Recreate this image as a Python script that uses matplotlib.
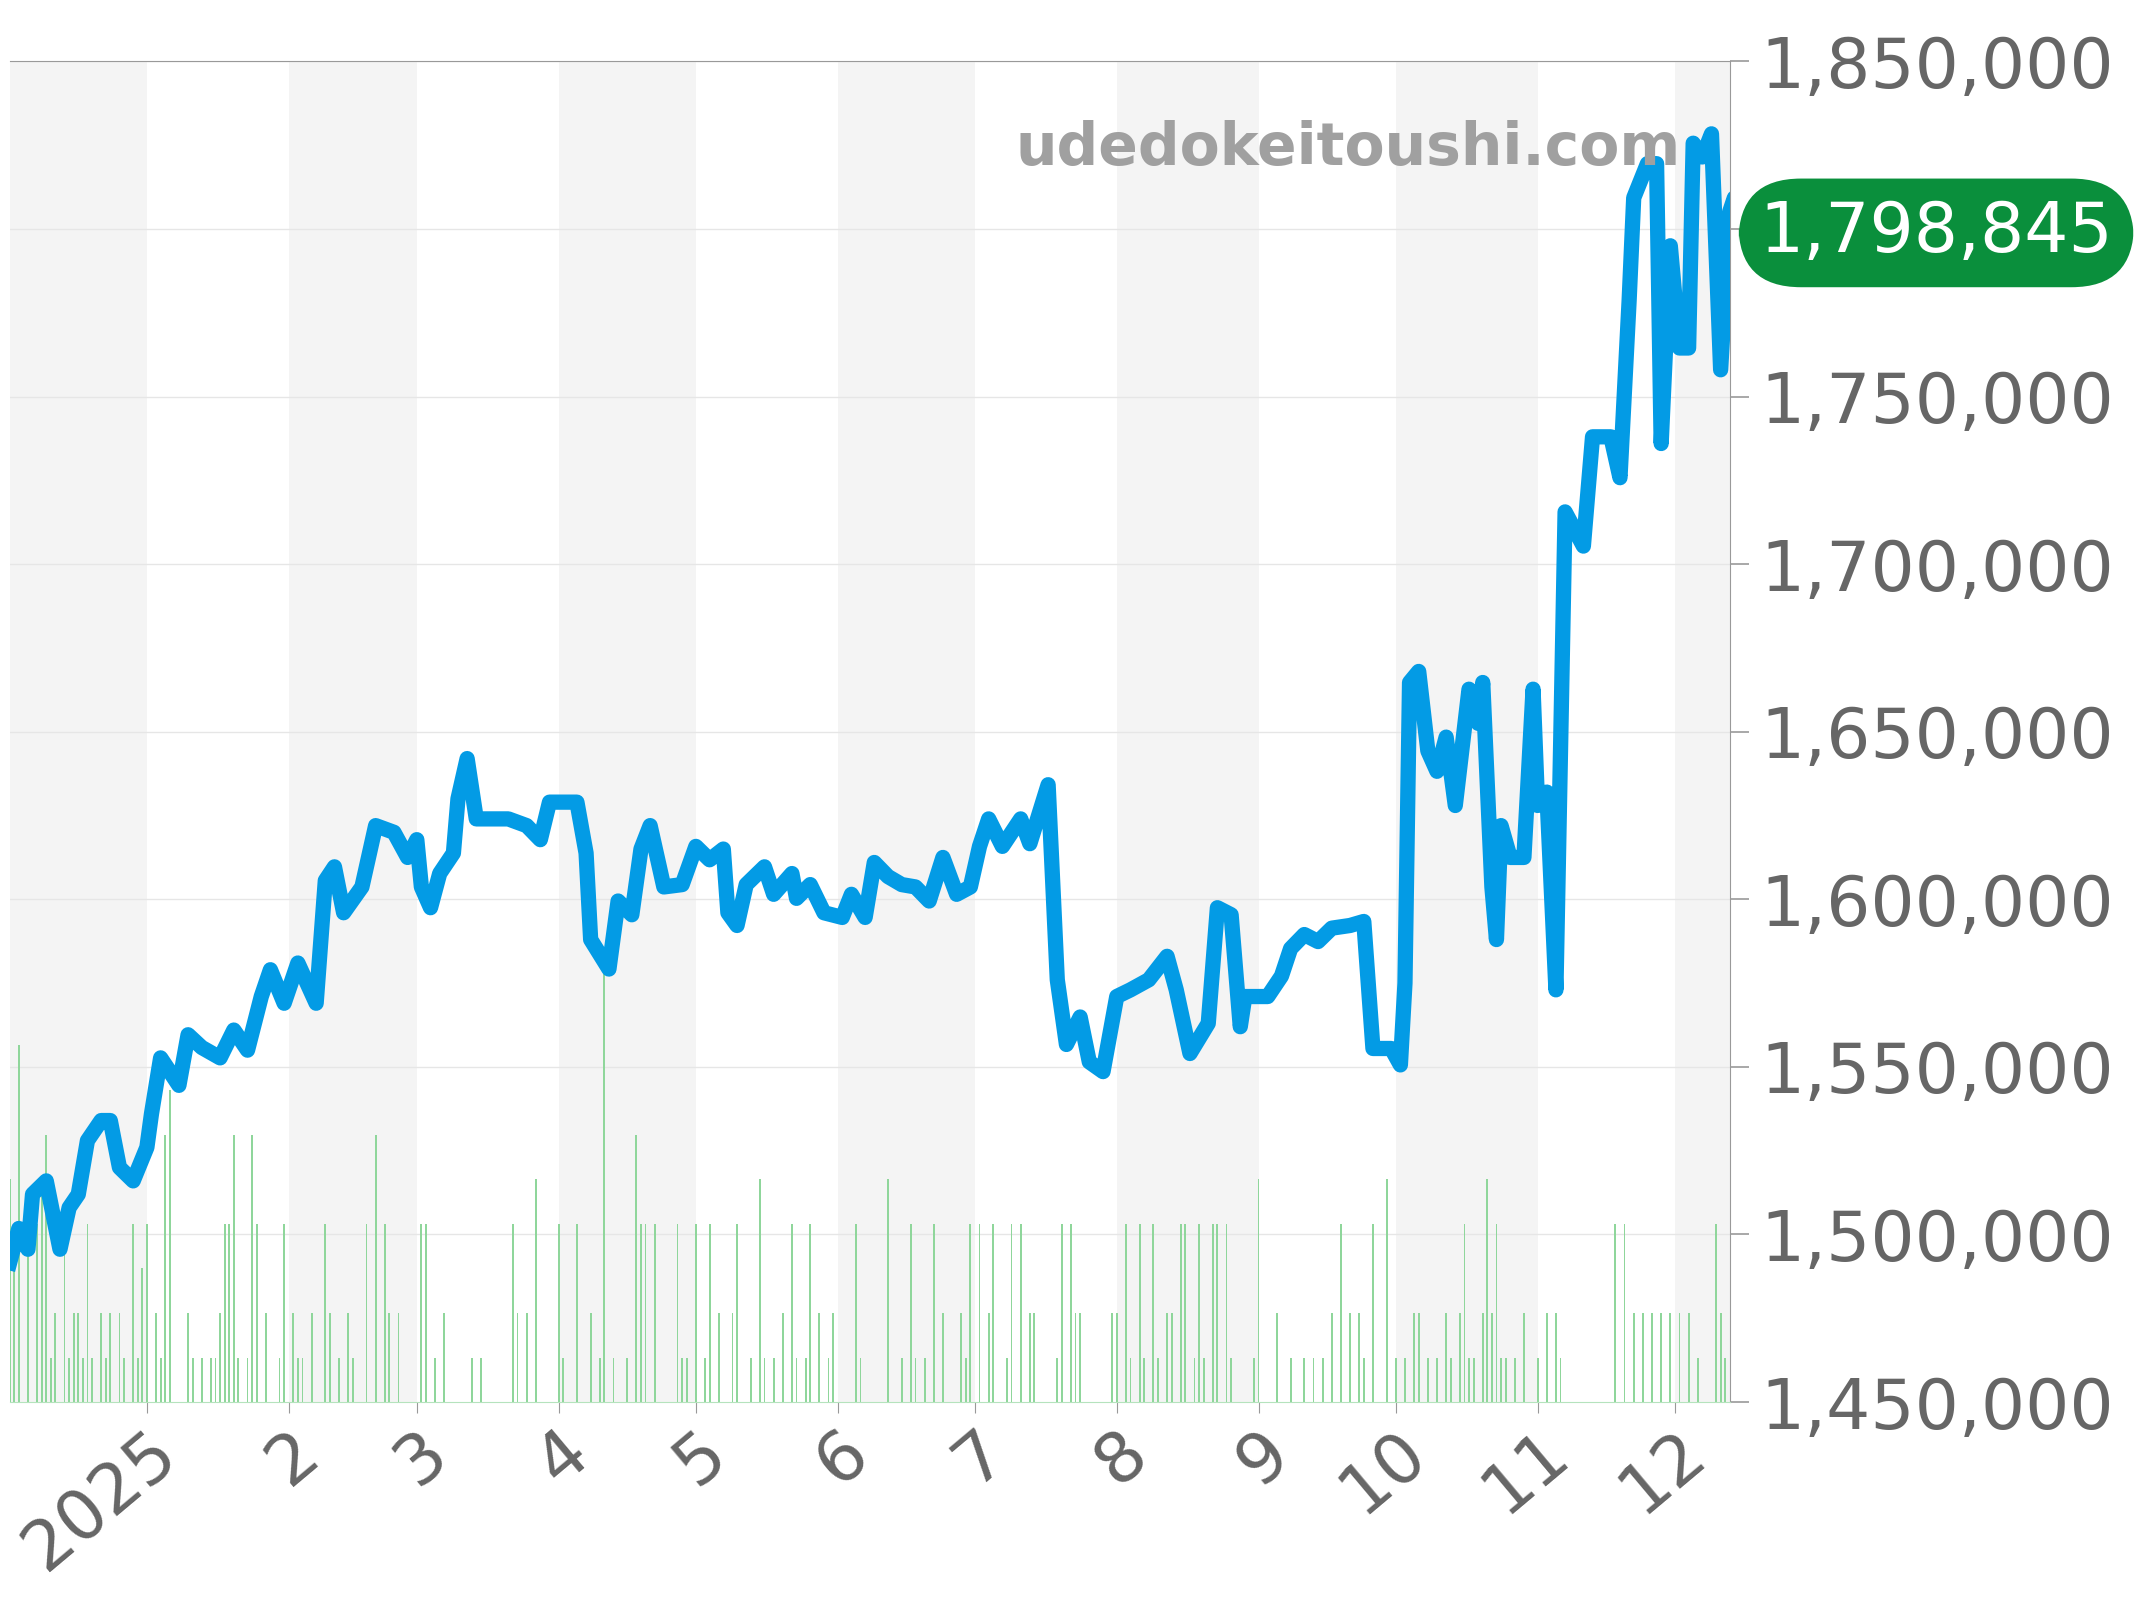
import matplotlib
matplotlib.use("Agg")
import matplotlib.pyplot as plt
import datetime as dt

start = dt.date(2024, 12, 2)
price_days = [0,2,4,5,8,11,13,15,17,20,22,24,27,30,31,33,37,39,42,46,49,52,55,57,60,63,67,69,71,73,77,80,84,87,89,90,92,94,97,98,100,102,106,109,113,116,118,124,126,127,131,133,136,138,140,143,147,150,153,156,157,159,161,165,167,171,172,175,178,182,184,187,189,192,195,198,201,204,207,210,212,214,217,221,223,227,229,231,234,236,239,242,245,249,253,255,258,262,264,267,269,270,275,278,280,283,286,289,293,296,298,302,304,305,306,308,310,312,314,316,319,321,322,324,325,326,328,331,333,334,336,338,340,344,346,350,352,354,355,358,360,361,363,365,367,368,370,372,374,376,377,378]
price_vals = [1491600,1501800,1495600,1512000,1516000,1495600,1508000,1512000,1528000,1534000,1534000,1520000,1516000,1526000,1536000,1552700,1544500,1559600,1555800,1552700,1561000,1555000,1571000,1579000,1569000,1581000,1569000,1605600,1609700,1596000,1603700,1622000,1620000,1612500,1617800,1603700,1597500,1607700,1613800,1630000,1642000,1624000,1624000,1624000,1622000,1617800,1629000,1629000,1613800,1588000,1579200,1599500,1595400,1615000,1622000,1603700,1604400,1615800,1611800,1615000,1596000,1592200,1604400,1609700,1601500,1607700,1600300,1604400,1596000,1594600,1601500,1594600,1611000,1606800,1604400,1603700,1599500,1612500,1601500,1603700,1615800,1624000,1615800,1624000,1616600,1634200,1576000,1556700,1564900,1551500,1548600,1571000,1573000,1576000,1583000,1573000,1554000,1563000,1597500,1595400,1562000,1571000,1571000,1577100,1585300,1589500,1587400,1591400,1592200,1593400,1555500,1555500,1550600,1575000,1664700,1668000,1644300,1638200,1648400,1628000,1662700,1652500,1664700,1603700,1588000,1622000,1612500,1612500,1662700,1628000,1632000,1573000,1715600,1705400,1738000,1738000,1725800,1778700,1809300,1819500,1819500,1736000,1795000,1764500,1764500,1825600,1821500,1828400,1758000,1805200,1809300,1798845]

vol_days = [0,1,2,4,6,7,8,9,10,12,13,14,15,16,17,18,20,21,22,24,25,27,28,29,30,32,33,34,35,39,40,42,44,45,46,47,48,49,50,52,53,54,56,59,60,62,63,64,66,69,70,72,74,75,78,80,82,83,85,90,91,93,95,101,103,110,111,113,115,120,121,124,127,129,130,132,135,137,138,139,141,146,147,148,150,152,153,155,158,159,162,164,165,167,169,171,172,174,175,177,179,180,185,186,192,195,197,198,200,202,204,208,209,210,212,214,215,218,219,221,223,224,229,230,232,233,234,241,242,244,245,247,248,250,251,253,254,256,257,259,260,261,263,264,266,267,272,273,277,280,283,285,287,289,291,293,295,296,298,301,303,305,307,308,310,312,314,315,317,318,319,320,322,323,324,325,326,327,329,331,334,336,338,339,351,353,355,357,359,361,363,365,367,369,373,374,375]
vol_lvls = [5,3,8,4,4,5,6,1,2,4,1,2,2,1,4,1,2,1,2,2,1,4,1,3,4,2,1,6,7,2,1,1,1,1,2,4,4,6,1,1,6,4,2,1,4,2,1,1,2,4,2,1,2,1,4,6,4,2,2,4,4,1,2,1,1,4,2,2,5,4,1,4,2,1,10,1,1,6,4,4,4,4,1,1,4,1,4,2,2,4,1,5,1,1,2,4,1,1,4,2,1,2,4,1,5,1,4,1,1,4,2,2,1,4,4,2,4,1,4,4,2,2,1,4,4,2,2,2,2,4,1,4,1,4,1,2,2,4,4,1,4,1,4,4,4,1,1,5,2,1,1,1,1,2,4,2,2,1,4,5,1,1,2,2,1,1,2,1,2,4,1,1,2,5,2,4,1,1,1,2,1,2,2,1,4,4,2,2,2,2,2,2,2,1,4,2,1]
vol_unit = 13300
last_price = 1798845

n = min(len(vol_days), len(vol_lvls))
pd_ = [start + dt.timedelta(days=d) for d in price_days]
vd_ = [start + dt.timedelta(days=d) for d in vol_days[:n]]

fig = plt.figure(figsize=(21.44, 16), dpi=100)
ax = fig.add_axes([0.0045, 0.1237, 0.8023, 0.8379])
x0 = dt.date(2024, 12, 2); x1 = dt.date(2025, 12, 13)
ax.set_xlim(x0, x1)
ax.set_ylim(1450000, 1850000)

for m in range(0, 13, 2):
    y = 2024 + (11 + m) // 12
    mo = (11 + m) % 12 + 1
    a = dt.date(y, mo, 1)
    ny = y + (mo // 12); nm = mo % 12 + 1
    b = dt.date(ny, nm, 1)
    ax.axvspan(max(a, x0), min(b, x1), color="#f4f4f4", zorder=0, lw=0)

for v in range(1500000, 1850001, 50000):
    ax.axhline(v, color="#e6e6e6", lw=1, zorder=1)

ax.bar(vd_, [l * vol_unit for l in vol_lvls[:n]], bottom=1450000, width=0.4,
       color="#8fd69b", zorder=2)
ax.plot(pd_, price_vals, color="#039be5", lw=11, zorder=3, solid_joinstyle="round")

ax.text(0.585, 0.935, "udedokeitoushi.com", transform=ax.transAxes, ha="left", va="center",
        fontsize=42, fontweight="bold", color="#a0a0a0", zorder=4, clip_on=False)

ax.yaxis.tick_right()
ax.set_yticks(range(1450000, 1850001, 50000))
ax.set_yticklabels([f"{v:,}" for v in range(1450000, 1850001, 50000)])
ax.tick_params(axis="y", labelsize=50, labelcolor="#666666", length=14, width=1.2, color="#999999", pad=8)

ticks = [dt.date(2025, m, 1) for m in range(1, 13)]
ax.set_xticks(ticks)
ax.set_xticklabels(["2025"] + [str(m) for m in range(2, 13)], rotation=40, ha="right",
                   rotation_mode="anchor")
ax.tick_params(axis="x", labelsize=50, labelcolor="#666666", length=8, color="#999999")

ax.spines["left"].set_visible(False)
ax.spines["top"].set_color("#999999")
ax.spines["right"].set_color("#999999")
ax.spines["bottom"].set_color("#b5e3bd")

ax.text(1.12, (last_price - 1450000) / 400000, f"{last_price:,}", transform=ax.transAxes,
        ha="center", va="center", fontsize=50, color="white", zorder=6, clip_on=False,
        bbox=dict(boxstyle="round,pad=0.3,rounding_size=0.9", fc="#0a8f3c", ec="none"))

fig.savefig("out.png", dpi=100)
